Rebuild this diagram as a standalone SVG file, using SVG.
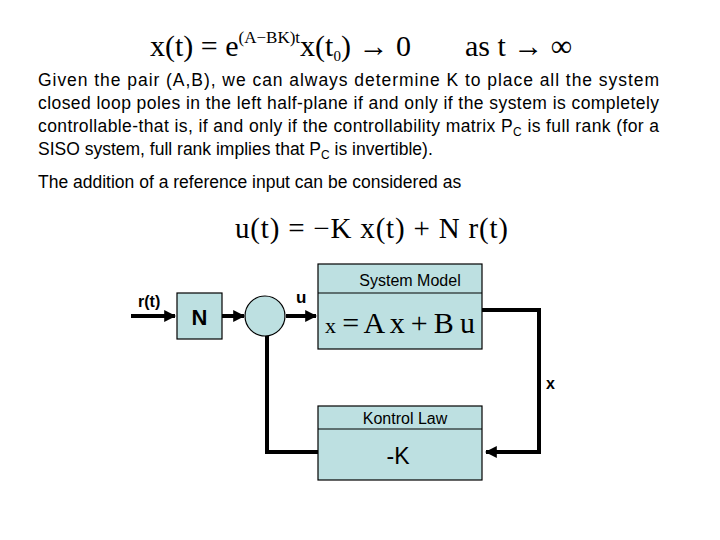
<svg xmlns="http://www.w3.org/2000/svg" width="720" height="540" viewBox="0 0 720 540">
<style>
.t{font-family:"Liberation Sans",Arial,sans-serif;font-size:17.5px;fill:#000}
.m{font-family:"Liberation Serif","Times New Roman",serif;fill:#000}
.box{fill:#bde0e1;stroke:#000;stroke-width:1.2}
.ln{fill:none;stroke:#000;stroke-width:4}
.lb{font-family:"Liberation Sans",Arial,sans-serif;fill:#000}
</style>
<defs><marker id="ah" viewBox="0 0 10 10" refX="9" refY="5" markerWidth="3" markerHeight="3" orient="auto"><path d="M0,0L10,5L0,10z" fill="#000"/></marker></defs>
<rect width="720" height="540" fill="#fff"/>
<text class="m" x="150" y="56" font-size="30">x(t) = e<tspan font-size="17" dy="-13">(A−BK)t</tspan><tspan dy="13">x(t</tspan><tspan font-size="15" dy="5">0</tspan><tspan dy="-5">) → 0</tspan></text>
<text class="m" x="465" y="56" font-size="30">as t → ∞</text>
<text class="t" x="38" y="86" textLength="621" lengthAdjust="spacing">Given the pair  (A,B), we can always determine K to place all the system</text>
<text class="t" x="38" y="109" textLength="621" lengthAdjust="spacing">closed loop poles in the left half-plane if and only if the system is completely</text>
<text class="t" x="38" y="132" textLength="621" lengthAdjust="spacing">controllable-that is, if and only if the controllability matrix P<tspan font-size="12" dy="4">C</tspan><tspan dy="-4"> is full rank (for a</tspan></text>
<text class="t" x="38" y="155">SISO system, full rank implies that P<tspan font-size="12" dy="4">C</tspan><tspan dy="-4"> is invertible).</tspan></text>
<text class="t" x="38" y="188">The addition of a reference input can be considered as</text>
<text class="m" x="235" y="238" font-size="29" textLength="273" lengthAdjust="spacing">u(t) = −K x(t) + N r(t)</text>
<g id="connectors">
<line class="ln" x1="131" y1="316" x2="175" y2="316" marker-end="url(#ah)"/>
<line class="ln" x1="222" y1="316" x2="244" y2="316" marker-end="url(#ah)"/>
<line class="ln" x1="286" y1="316" x2="316" y2="316" marker-end="url(#ah)"/>
<polyline class="ln" points="482,310 539,310 539,452 486,452" marker-end="url(#ah)"/>
<polyline class="ln" points="318,452 267,452 267,336"/>
</g>
<text class="lb" x="138" y="307" font-size="16" font-weight="bold">r(t)</text>
<text class="lb" x="296" y="303" font-size="17" font-weight="bold">u</text>
<text class="lb" x="546" y="389" font-size="16" font-weight="bold">x</text>
<g id="N"><rect class="box" x="177" y="293" width="45" height="46"/><text class="lb" x="199.5" y="325" font-size="22" font-weight="bold" text-anchor="middle">N</text></g>
<g id="sum"><circle class="box" cx="265" cy="316" r="20"/></g>
<g id="system"><rect class="box" x="318" y="264" width="164" height="85"/><line x1="318" y1="293" x2="482" y2="293" stroke="#000" stroke-width="1.2"/>
<text class="lb" x="410" y="286" font-size="16" text-anchor="middle">System Model</text>
<text class="m" x="325" y="333" font-size="30" textLength="150" lengthAdjust="spacing"><tspan font-size="22">x</tspan> = A x + B u</text></g>
<g id="kontrol"><rect class="box" x="318" y="406" width="164" height="74"/><line x1="318" y1="429" x2="482" y2="429" stroke="#000" stroke-width="1.2"/>
<text class="lb" x="405" y="424" font-size="16" text-anchor="middle">Kontrol Law</text>
<text class="lb" x="398" y="464" font-size="23" text-anchor="middle">-K</text></g>
</svg>
